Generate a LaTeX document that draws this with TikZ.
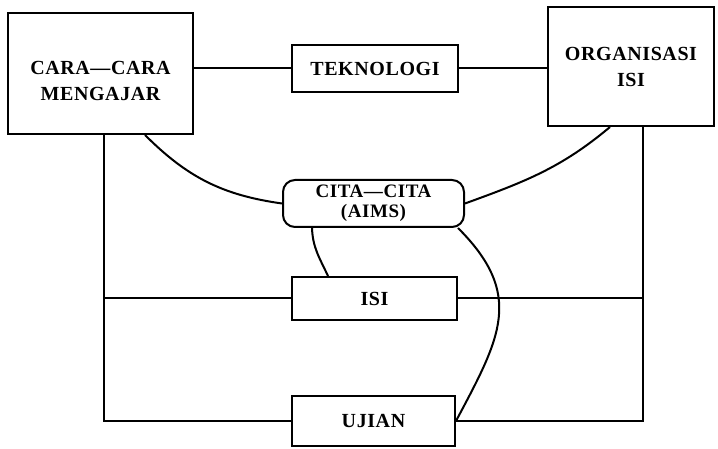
\documentclass[tikz,border=0pt]{standalone}
\usepackage{fontspec}
\newfontfamily\diagfont[LetterSpace=3]{Liberation Serif}
\usetikzlibrary{positioning}

\begin{document}
\begin{tikzpicture}[
  x=1pt, y=1pt,
  line width=2pt,
  every node/.style={font=\diagfont\bfseries\fontsize{20}{26}\selectfont},
  box/.style={draw, align=center, inner sep=0pt},
  aimbox/.style={draw, rounded corners=12pt, align=center, inner sep=0pt, font=\diagfont\bfseries\fontsize{19}{20}\selectfont}
]
\useasboundingbox (0,0) rectangle (718,449);
\node[box, minimum width=185pt, minimum height=121pt, text height=55pt, text depth=0pt] (cara) at (100.5,375.5) {CARA—CARA\\MENGAJAR};
\node[box, minimum width=166pt, minimum height=47pt] (tek) at (375,380.5) {TEKNOLOGI};
\node[box, minimum width=166pt, minimum height=119pt] (org) at (631,382.5) {ORGANISASI\\ISI};
\node[aimbox, minimum width=181pt, minimum height=47pt] (cita) at (373.5,245.5) {CITA—CITA\\(AIMS)};
\node[box, minimum width=165pt, minimum height=43pt] (isi) at (374.5,150.5) {ISI};
\node[box, minimum width=163pt, minimum height=50pt] (ujian) at (373.5,28) {UJIAN};
\coordinate (leftRail) at (104,0);
\coordinate (rightRail) at (643,0);
% top row
\draw (cara.east |- tek.west) -- (tek.west);
\draw (tek.east) -- (tek.east -| org.west);
% side rails
\draw (cara.south -| leftRail) -- (ujian.west -| leftRail) -- (ujian.west);
\draw (isi.west -| leftRail) -- (isi.west);
\draw (org.south -| rightRail) -- (ujian.east -| rightRail) -- (ujian.east);
\draw (isi.east) -- (isi.east -| rightRail);
% curves to the aims
\draw ([xshift=44.5pt]cara.south) to[out=-45,in=172] (cita.west);
\draw ([xshift=-21pt]org.south) to[out=-140,in=20] (cita.east);
\draw ([xshift=-61.5pt]cita.south) to[out=-88,in=115] ([xshift=-46.5pt]isi.north);
\draw ([xshift=84.5pt]cita.south) to[out=-45,in=62,looseness=1.25] (ujian.east);
\end{tikzpicture}
\end{document}
